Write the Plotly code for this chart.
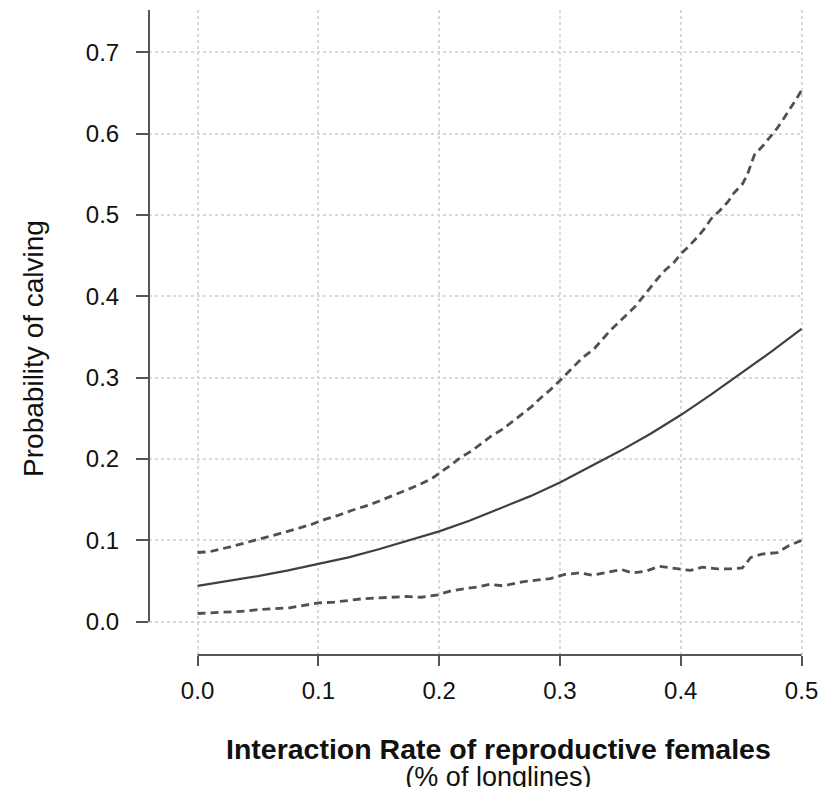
import plotly.graph_objects as go

# ---- data ----
x_mid = [0.0, 0.025, 0.05, 0.075, 0.1, 0.125, 0.15, 0.175, 0.2, 0.225, 0.25,
         0.275, 0.3, 0.325, 0.35, 0.375, 0.4, 0.425, 0.45, 0.475, 0.5]
y_mid = [0.044, 0.050, 0.056, 0.063, 0.071, 0.079, 0.089, 0.100, 0.111, 0.124,
         0.139, 0.154, 0.171, 0.190, 0.210, 0.231, 0.254, 0.279, 0.305, 0.332, 0.360]

x_upper = [0.0, 0.010, 0.027, 0.040, 0.053, 0.065, 0.084, 0.095, 0.106, 0.117,
           0.128, 0.139, 0.150, 0.161, 0.172, 0.183, 0.194, 0.200, 0.210, 0.218,
           0.227, 0.235, 0.243, 0.253, 0.261, 0.269, 0.277, 0.284, 0.292, 0.299,
           0.306, 0.313, 0.319, 0.328, 0.334, 0.341, 0.348, 0.355, 0.362, 0.381,
           0.387, 0.394, 0.400, 0.407, 0.414, 0.420, 0.425, 0.432, 0.439, 0.444,
           0.451, 0.455, 0.458, 0.461, 0.468, 0.474, 0.480, 0.485, 0.490, 0.495, 0.500]
y_upper = [0.085, 0.086, 0.092, 0.097, 0.102, 0.107, 0.115, 0.120, 0.126, 0.131,
           0.137, 0.142, 0.148, 0.155, 0.161, 0.168, 0.176, 0.182, 0.193, 0.202,
           0.210, 0.219, 0.228, 0.237, 0.246, 0.255, 0.265, 0.275, 0.285, 0.295,
           0.306, 0.316, 0.325, 0.335, 0.345, 0.357, 0.367, 0.377, 0.387, 0.422,
           0.432, 0.441, 0.452, 0.462, 0.473, 0.484, 0.495, 0.505, 0.516, 0.527,
           0.538, 0.549, 0.562, 0.574, 0.585, 0.596, 0.607, 0.618, 0.629, 0.641, 0.653]

x_lower = [0.0, 0.016, 0.029, 0.040, 0.051, 0.063, 0.076, 0.088, 0.100, 0.113,
           0.124, 0.136, 0.148, 0.161, 0.173, 0.185, 0.199, 0.210, 0.221, 0.233,
           0.242, 0.253, 0.269, 0.280, 0.292, 0.304, 0.316, 0.327, 0.340, 0.351,
           0.360, 0.371, 0.382, 0.394, 0.408, 0.418, 0.430, 0.441, 0.451, 0.458,
           0.467, 0.480, 0.489, 0.500]
y_lower = [0.010, 0.011, 0.012, 0.013, 0.015, 0.016, 0.017, 0.020, 0.023, 0.024,
           0.026, 0.028, 0.029, 0.030, 0.031, 0.030, 0.033, 0.038, 0.040, 0.043,
           0.046, 0.044, 0.049, 0.051, 0.053, 0.058, 0.060, 0.057, 0.061, 0.064,
           0.060, 0.062, 0.068, 0.066, 0.063, 0.067, 0.065, 0.065, 0.066, 0.079,
           0.083, 0.085, 0.093, 0.100]

x_ticks = [0.0, 0.1, 0.2, 0.3, 0.4, 0.5]
x_tick_labels = ["0.0", "0.1", "0.2", "0.3", "0.4", "0.5"]
y_ticks = [0.0, 0.1, 0.2, 0.3, 0.4, 0.5, 0.6, 0.7]
y_tick_labels = ["0.0", "0.1", "0.2", "0.3", "0.4", "0.5", "0.6", "0.7"]

x_title = "Interaction Rate of reproductive females"
x_subtitle = "(% of longlines)"
y_title = "Probability of calving"

X_RANGE = [-0.0402, 0.5012]
Y_RANGE = [-0.041, 0.752]

AXIS_COLOR = "#555555"
FONT = "Liberation Sans, Arial, sans-serif"

fig = go.Figure()
fig.add_trace(go.Scatter(x=x_upper, y=y_upper, mode="lines",
                         line=dict(color="#505050", width=2.8, dash="8px,5px"),
                         showlegend=False))
fig.add_trace(go.Scatter(x=x_lower, y=y_lower, mode="lines",
                         line=dict(color="#505050", width=2.8, dash="8px,5px"),
                         showlegend=False))
fig.add_trace(go.Scatter(x=x_mid, y=y_mid, mode="lines",
                         line=dict(color="#404040", width=2.2),
                         showlegend=False))

# R-style detached axis lines
fig.add_shape(type="line", xref="x", yref="y domain",
              x0=x_ticks[0], x1=x_ticks[-1], y0=0, y1=0,
              line=dict(color=AXIS_COLOR, width=2))
fig.add_shape(type="line", xref="x domain", yref="y",
              x0=0, x1=0, y0=y_ticks[0], y1=Y_RANGE[1],
              line=dict(color=AXIS_COLOR, width=2))

fig.update_xaxes(range=X_RANGE, tickvals=x_ticks, ticktext=x_tick_labels,
                 ticks="outside", ticklen=10, tickwidth=2, tickcolor=AXIS_COLOR,
                 showline=False, zeroline=False,
                 showgrid=True, gridcolor="#d9d9d9", gridwidth=1.5, griddash="dot",
                 tickfont=dict(family=FONT, size=24, color="#111111"),
                 ticklabelstandoff=4)
fig.update_yaxes(range=Y_RANGE, tickvals=y_ticks, ticktext=y_tick_labels,
                 ticks="outside", ticklen=12, tickwidth=2, tickcolor=AXIS_COLOR,
                 showline=False, zeroline=False,
                 showgrid=True, gridcolor="#d9d9d9", gridwidth=1.5, griddash="dot",
                 tickfont=dict(family=FONT, size=24, color="#111111"),
                 ticklabelstandoff=12)

fig.add_annotation(text=y_title, xref="paper", yref="paper",
                   x=-0.176, y=0.476, textangle=-90, showarrow=False,
                   xanchor="center", yanchor="middle",
                   font=dict(family=FONT, size=28, color="#111111"))
# two-line x title in one text block, tight line spacing like the reference
fig.add_annotation(
    text=(f"<span style='font-size:28.5px'><b>{x_title}</b></span><br>"
          f"<span style='font-size:27px'>{x_subtitle}</span>"),
    xref="paper", yref="paper", x=0.535, y=-0.166, showarrow=False,
    xanchor="center", yanchor="middle", align="center",
    font=dict(family=FONT, size=20.5, color="#111111"))

fig.update_layout(width=828, height=787,
                  margin=dict(l=149, r=20, t=10, b=132),
                  plot_bgcolor="white", paper_bgcolor="white")

fig.write_html("out.html", config={"displayModeBar": False},
               post_script="document.body.style.margin='0';document.body.style.overflow='hidden';")
